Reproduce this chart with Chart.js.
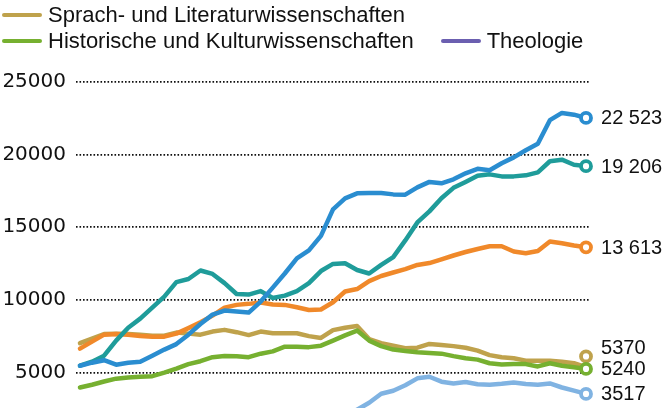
<!DOCTYPE html>
<html><head><meta charset="utf-8">
<script src="https://cdn.jsdelivr.net/npm/chart.js@4"></script>
<style>
html,body{margin:0;padding:0;background:#fff;overflow:hidden;width:664px;height:408px}
#wrap{position:absolute;left:0;top:0;width:664px;height:467px}
#legend{position:absolute;left:0;top:0;width:664px;height:60px;font-family:"Liberation Sans",Arial,sans-serif;font-size:22px;color:#111}
.row{position:absolute;left:2px;height:26px;display:flex;align-items:center;white-space:nowrap}
.item{display:flex;align-items:center;margin-right:27px}
.sw{width:40px;height:4.5px;border-radius:3px;margin-right:6px}
</style></head><body>
<div id="wrap"><canvas id="c"></canvas></div>
<div id="legend"></div>
<script>
const years = [1981,1982,1983,1984,1985,1986,1987,1988,1989,1990,1991,1992,1993,1994,1995,1996,1997,1998,1999,2000,2001,2002,2003,2004,2005,2006,2007,2008,2009,2010,2011,2012,2013,2014,2015,2016,2017,2018,2019,2020,2021,2022,2023];

const names = ["Wirtschaftswissenschaften","Sozialwissenschaften","Recht","Interdisziplinäre und andere","Sprach- und Literaturwissenschaften","Historische und Kulturwissenschaften","Theologie"];
const colors = ["#2a8dd0","#1f9c9a","#f0892a","#80b3e2","#bfa24c","#76b030","#6b5fb0"];

const wirtschaft = [5460,5670,5840,5530,5670,5740,6150,6570,6950,7600,8330,8980,9260,9190,9120,9880,10840,11810,12850,13400,14400,16230,16990,17330,17350,17350,17260,17240,17740,18120,18020,18300,18710,19020,18920,19400,19810,20300,20750,22370,22870,22750,22523];
const sozial = [5460,5740,6150,7190,8080,8700,9460,10220,11220,11430,12020,11780,11150,10400,10360,10600,10120,10290,10600,11150,11980,12470,12520,12050,11810,12400,12940,14090,15330,16090,16990,17710,18120,18540,18640,18500,18500,18570,18780,19540,19650,19300,19206];
const recht = [6640,7120,7600,7650,7600,7500,7460,7460,7670,8050,8450,8910,9460,9650,9720,9810,9670,9650,9490,9300,9330,9830,10570,10740,11290,11640,11880,12110,12400,12530,12780,13050,13290,13500,13690,13690,13330,13210,13360,14020,13900,13740,13613];
const uebrige = [null,null,null,null,null,null,null,null,null,null,null,null,null,null,null,null,null,null,null,null,null,null,1900,2430,2910,3530,3740,4120,4590,4700,4360,4240,4340,4190,4150,4220,4310,4200,4150,4240,3960,3740,3517];
const sprach = [7010,7330,7640,7670,7640,7600,7530,7530,7740,7670,7600,7810,7930,7770,7570,7810,7700,7700,7700,7500,7370,7910,8080,8190,7290,7010,6840,6660,6700,6960,6880,6810,6700,6500,6190,6040,5970,5810,5810,5810,5740,5630,5370];
const historisch = [3960,4150,4370,4570,4650,4700,4740,4980,5260,5570,5770,6050,6130,6120,6050,6290,6450,6770,6770,6740,6840,7190,7550,7880,7190,6810,6570,6480,6390,6340,6290,6120,5970,5880,5630,5550,5570,5570,5410,5630,5460,5360,5240];
const theologie = years.map(() => null);

const yTicks = [0,5000,10000,15000,20000,25000];
const seriesValues = [wirtschaft, sozial, recht, uebrige, sprach, historisch, theologie];
const drawOrder = [1,2,4,5,6,3,7];
const legendRows = [[0,1,2,3],[4],[5,6]];

// HTML legend
const leg = document.getElementById('legend');
legendRows.forEach((row, r) => {
  const div = document.createElement('div');
  div.className = 'row';
  div.style.top = (-24 + r * 26) + 'px';
  row.forEach(k => {
    const it = document.createElement('div');
    it.className = 'item';
    const sw = document.createElement('span');
    sw.className = 'sw';
    sw.style.background = colors[k];
    const tx = document.createElement('span');
    tx.textContent = names[k];
    it.appendChild(sw); it.appendChild(tx);
    div.appendChild(it);
  });
  leg.appendChild(div);
});

function fmt(v) {
  const s = String(Math.round(v));
  return v >= 10000 ? s.slice(0, s.length - 3) + ' ' + s.slice(-3) : s;
}

function spread(items, gap) {
  const arr = items.slice().sort((a, b) => b.y0 - a.y0);
  const out = new Map();
  let prev = null;
  arr.forEach(it => {
    let y = it.y0;
    if (prev !== null && prev - y < gap) y = prev - gap;
    out.set(it, y);
    prev = y;
  });
  return out;
}

const endLabels = {
  id: 'endLabels',
  afterDatasetsDraw(chart) {
    const ctx = chart.ctx;
    const items = [];
    chart.data.datasets.forEach((ds, i) => {
      const meta = chart.getDatasetMeta(i);
      let last = -1;
      ds.data.forEach((p, j) => { if (p.y !== null) last = j; });
      if (last < 0) return;
      const el = meta.data[last];
      items.push({ x: el.x, y0: el.y, color: ds.borderColor, value: ds.data[last].y });
    });
    const mk = spread(items, 12.5);
    const lb = spread(items, 21);
    ctx.save();
    items.forEach(it => {
      const my = mk.get(it);
      ctx.beginPath();
      ctx.arc(it.x, my, 5, 0, Math.PI * 2);
      ctx.fillStyle = '#fff';
      ctx.fill();
      ctx.lineWidth = 3.8;
      ctx.strokeStyle = it.color;
      ctx.stroke();
    });
    ctx.font = '20px "Liberation Sans", Arial, sans-serif';
    ctx.fillStyle = '#111';
    ctx.textAlign = 'left';
    ctx.textBaseline = 'middle';
    items.forEach(it => {
      ctx.fillText(fmt(it.value), it.x + 15, lb.get(it) + 1);
    });
    ctx.restore();
  }
};

const datasets = seriesValues.map((vals, k) => ({
  label: names[k],
  data: years.map((yr, i) => ({ x: yr, y: vals[i] })),
  borderColor: colors[k],
  backgroundColor: colors[k],
  borderWidth: 4.5,
  pointRadius: 0,
  pointHoverRadius: 0,
  tension: 0,
  borderJoinStyle: 'round',
  borderCapStyle: 'round',
  fill: false,
  order: drawOrder[k]
}));

new Chart(document.getElementById('c'), {
  type: 'line',
  data: { datasets },
  options: {
    responsive: true,
    maintainAspectRatio: false,
    animation: false,
    events: [],
    layout: { padding: { left: 0, right: 74, top: 82, bottom: 13.5 } },
    plugins: { legend: { display: false }, tooltip: { enabled: false } },
    scales: {
      x: {
        type: 'linear',
        min: years[0] - 0.33,
        max: years[years.length - 1] + 0.33,
        display: false
      },
      y: {
        min: yTicks[0],
        max: yTicks[yTicks.length - 1],
        afterBuildTicks: (scale) => { scale.ticks = yTicks.map(v => ({ value: v })); },
        afterFit: (scale) => { scale.width = 76; },
        border: { display: false, dash: [1.6, 1.9] },
        grid: { color: '#111', lineWidth: 1.8, drawTicks: false },
        ticks: {
          padding: 10,
          color: '#111',
          font: { family: '"DejaVu Sans", sans-serif', size: 20 },
          callback: (v) => String(v)
        }
      }
    }
  },
  plugins: [endLabels]
});
</script>
</body></html>
